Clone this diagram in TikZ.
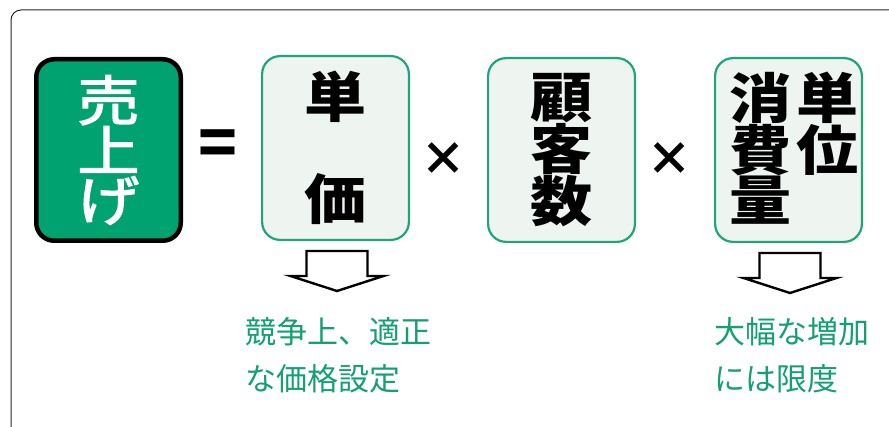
\documentclass[tikz,border=0pt]{standalone}
\usepackage{fontspec}
\setmainfont{Noto Sans CJK JP}
\newfontfamily\salesfont[FakeBold=2.2]{Noto Sans CJK JP}
\definecolor{salesgreen}{HTML}{00A270}
\definecolor{boxedge}{HTML}{1FA57A}
\definecolor{boxfill}{HTML}{EEF5F0}
\definecolor{notegreen}{HTML}{15A072}
\newcommand\widechar[1]{\scalebox{1.15}[1]{#1}}
\tikzset{
  framestyle/.style={draw=black!85, line width=1pt, rounded corners=10pt},
  salesbox/.style={draw=black, line width=4.5pt, fill=salesgreen, rounded corners=18pt,
    minimum width=144.5pt, minimum height=181.5pt, inner sep=0pt, align=center,
    text=white, font=\salesfont\fontsize{54}{50}\selectfont},
  factorbox/.style={draw=boxedge, line width=2.2pt, fill=boxfill, rounded corners=18pt,
    minimum width=146.8pt, minimum height=183.8pt, inner sep=0pt, align=center,
    font=\bfseries\fontsize{54}{50}\selectfont},
  bigtext/.style={inner sep=0pt, align=center, font=\bfseries\fontsize{54}{50}\selectfont},
  opsign/.style={inner sep=0pt, font=\bfseries\fontsize{46}{46}\selectfont},
  eqsign/.style={inner sep=0pt, font=\bfseries\fontsize{64}{64}\selectfont},
  blockarr/.style={draw=black, line width=2.4pt, fill=white, line join=miter},
  note/.style={inner sep=0pt, align=left, anchor=base west, text=notegreen,
    font=\fontsize{31}{47}\selectfont}
}
\newcommand\downarrowbox[1]{%
  \draw[blockarr] ([shift={(-29,-10)}]#1.south) -- ++(61,0) -- ++(0,-25) -- ++(16,0)
    -- ++(-46.5,-15) -- ++(-46.5,15) -- ++(16,0) -- cycle;}
\begin{document}
\begin{tikzpicture}[x=1pt,y=1pt]
\useasboundingbox (0,0) rectangle (889,426);
\begin{scope}
  \clip (0,0) rectangle (889,426);
  \draw[framestyle] (11,-20) -- (11,416) -- (920,416);
\end{scope}
\node[salesbox] (sales) at (108.5,276) {\widechar{売}\\\widechar{上}\\\widechar{げ}};
\node[eqsign] (eq) at (217.5,277.5) {=};
\node[factorbox] (price) at (335.5,278) {\widechar{単}\\[50pt]\widechar{価}};
\node[opsign] (x1) at (443,267) {×};
\node[factorbox] (cust) at (561.5,276) {\widechar{顧}\\\widechar{客}\\\widechar{数}};
\node[opsign] (x2) at (669,267) {×};
\node[factorbox] (cons) at (788.5,276) {};
\node[bigtext] (consA) at (760.5,277.5) {\widechar{消}\\\widechar{費}\\\widechar{量}};
\node[bigtext] (consB) at (828,302.5) {\widechar{単}\\\widechar{位}};
\downarrowbox{price}
\downarrowbox{cons}
\node[note] (note1) at (245,36) {競争上、適正\\な価格設定};
\node[note] (note2) at (714,36) {大幅な増加\\には限度};
\end{tikzpicture}
\end{document}
